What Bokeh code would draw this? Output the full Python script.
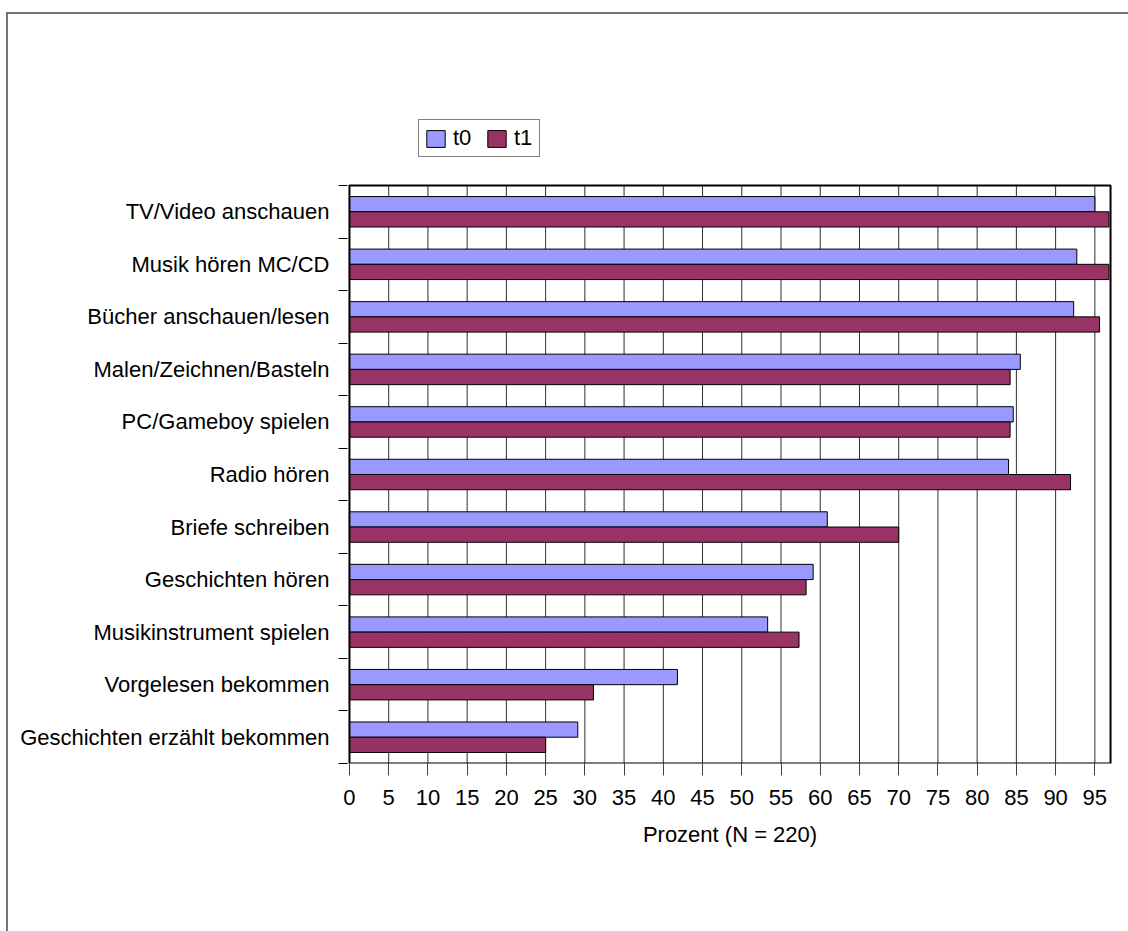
from bokeh.plotting import figure
from bokeh.models import Range1d, FixedTicker, Legend, LegendItem
from bokeh.embed import file_html
from bokeh.resources import INLINE

# Leisure activities, share of children (percent), two survey waves
categories = [
    "TV/Video anschauen",
    "Musik hören MC/CD",
    "Bücher anschauen/lesen",
    "Malen/Zeichnen/Basteln",
    "PC/Gameboy spielen",
    "Radio hören",
    "Briefe schreiben",
    "Geschichten hören",
    "Musikinstrument spielen",
    "Vorgelesen bekommen",
    "Geschichten erzählt bekommen",
]
t0 = [95.0, 92.7, 92.3, 85.5, 84.6, 84.0, 60.9, 59.1, 53.3, 41.8, 29.1]
t1 = [96.8, 96.8, 95.6, 84.2, 84.2, 91.9, 70.0, 58.2, 57.3, 31.1, 25.0]
series_names = ["t0", "t1"]
x_ticks = [0, 5, 10, 15, 20, 25, 30, 35, 40, 45, 50, 55, 60, 65, 70, 75, 80, 85, 90, 95]
x_max = 97
x_title = "Prozent (N = 220)"

FONT = "Liberation Sans"
FS = "22px"
C_T0 = "#9999FF"
C_T1 = "#993366"

n = len(categories)
centers = [n - 0.5 - i for i in range(n)]
bar_h = 0.29
off = 0.145

# The frame reaches above the bar area so the legend can sit there;
# the bar area itself spans y = 0..n and x = 0..x_max.
PX_PER_BAND = 578 / n
TOP_EXTRA = (185 - 112) / PX_PER_BAND
X_PAD = 0.25

p = figure(
    width=1128, height=931,
    x_range=Range1d(-X_PAD, x_max + X_PAD), y_range=Range1d(0, n + TOP_EXTRA),
    output_backend="svg", toolbar_location=None,
    min_border_left=347, min_border_right=16,
    min_border_top=112, min_border_bottom=168,
)
p.border_fill_color = None
p.background_fill_color = "white"
p.outline_line_color = None
# outer chart frame: left and top edges
p.styles = {
    "background-color": "#ffffff",
    "background-image": "linear-gradient(#757575,#757575), linear-gradient(#757575,#757575)",
    "background-position": "6px 12px, 6px 12px",
    "background-size": "2px 919px, 1122px 2px",
    "background-repeat": "no-repeat, no-repeat",
}

# vertical gridlines within the bar area
grid_x = x_ticks[1:]
p.segment(x0=grid_x, y0=[0] * len(grid_x), x1=grid_x, y1=[n] * len(grid_x),
          line_color="#2e2e2e", line_width=1)

r0 = p.hbar(y=[c + off for c in centers], right=t0, left=0, height=bar_h,
            fill_color=C_T0, line_color="black", line_width=1)
r1 = p.hbar(y=[c - off for c in centers], right=t1, left=0, height=bar_h,
            fill_color=C_T1, line_color="black", line_width=1)

# plot-area border
p.quad(left=[0], right=[x_max], bottom=[0], top=[n],
       fill_color=None, line_color="black", line_width=2)

# x axis
xa = p.xaxis[0]
xa.ticker = FixedTicker(ticks=x_ticks)
xa.axis_line_color = None
xa.major_tick_in = 0
xa.major_tick_out = 12
xa.major_tick_line_color = "#404040"
xa.minor_tick_line_color = None
xa.major_label_text_font = FONT
xa.major_label_text_font_size = FS
xa.major_label_text_color = "black"
xa.major_label_standoff = 14
xa.axis_label = x_title
xa.axis_label_text_font = FONT
xa.axis_label_text_font_size = FS
xa.axis_label_text_font_style = "normal"
xa.axis_label_text_color = "black"
xa.axis_label_standoff = 14

# y axis: names at band centres, tick marks at band boundaries
ya = p.yaxis[0]
ya.ticker = FixedTicker(ticks=centers, minor_ticks=list(range(0, n + 1)))
ya.major_label_overrides = {c: name for c, name in zip(centers, categories)}
ya.axis_line_color = None
ya.major_tick_in = 0
ya.major_tick_out = 0
ya.minor_tick_in = 0
ya.minor_tick_out = 9
ya.minor_tick_line_color = "black"
ya.major_label_text_font = FONT
ya.major_label_text_font_size = FS
ya.major_label_text_color = "black"
ya.major_label_standoff = 9

p.xgrid.visible = False
p.ygrid.visible = False

legend = Legend(
    items=[LegendItem(label=series_names[0], renderers=[r0]),
           LegendItem(label=series_names[1], renderers=[r1])],
    location=(71, 606), orientation="horizontal",
    label_text_font=FONT, label_text_font_size=FS, label_text_color="black",
    glyph_width=23, glyph_height=21, label_standoff=6, spacing=12,
    padding=5, margin=0,
    border_line_color="black", border_line_width=1,
    background_fill_color="white", background_fill_alpha=1,
)
p.add_layout(legend)

open("out.html", "w").write(file_html(p, INLINE))
